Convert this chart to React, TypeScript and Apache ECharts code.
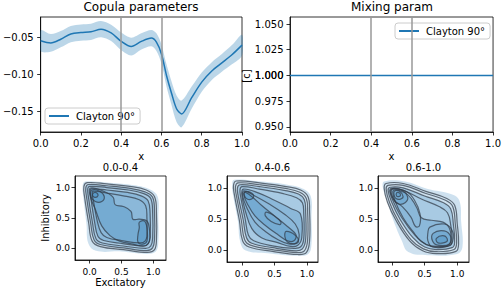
import React, { useEffect, useRef } from "react";
import * as echarts from "echarts";

const FONT = "DejaVu Sans";

// ---- Copula parameters (top-left) ----
const copulaX = [0, 0.05, 0.1, 0.15, 0.2, 0.25, 0.3, 0.35, 0.4, 0.45, 0.5, 0.55, 0.575, 0.6, 0.625, 0.65, 0.675, 0.7, 0.75, 0.8, 0.85, 0.9, 0.95, 1.0];
const copulaMean = [-0.054, -0.057, -0.052, -0.045, -0.043, -0.042, -0.0385, -0.0435, -0.055, -0.062, -0.055, -0.0505, -0.056, -0.072, -0.101, -0.125, -0.146, -0.153, -0.131, -0.11, -0.095, -0.084, -0.073, -0.06];
const copulaUpper = [-0.04, -0.045, -0.041, -0.034, -0.032, -0.031, -0.0275, -0.0325, -0.043, -0.05, -0.044, -0.0395, -0.044, -0.059, -0.086, -0.109, -0.128, -0.135, -0.116, -0.097, -0.083, -0.072, -0.06, -0.046];
const copulaLower = [-0.068, -0.069, -0.063, -0.056, -0.054, -0.053, -0.0495, -0.0545, -0.067, -0.074, -0.066, -0.0615, -0.068, -0.085, -0.116, -0.141, -0.164, -0.171, -0.146, -0.123, -0.107, -0.096, -0.086, -0.074];

// ---- Mixing param (top-right) ----
const mixingX = [0, 1];
const mixingValues = [1, 1];

const boundaries = [0.4, 0.6];
const topXTicks = [0, 0.2, 0.4, 0.6, 0.8, 1.0];
const copulaYTicks = [-0.15, -0.1, -0.05];
const mixingYTicks = [0.95, 0.975, 1.0, 1.025, 1.05];
const mixingCenterTick = 1.0;
const kdeTicks = [0, 0.5, 1.0];

// ---- KDE panel 1 (0.0-0.4) ----
const kde1Fills = [
  [[-0.07, 1.1], [0.3, 1.08], [0.7, 1.04], [0.95, 0.97], [1.07, 0.85], [1.08, 0.5], [1.08, 0.1], [1.04, -0.05], [0.9, -0.09], [0.5, -0.05], [0.1, -0.04], [-0.02, 0.08], [-0.05, 0.4], [-0.1, 0.85], [-0.11, 1.03]],
  [[-0.02, 1.05], [0.27, 1.03], [0.62, 0.99], [0.87, 0.93], [0.99, 0.84], [1.02, 0.58], [1.02, 0.16], [0.99, 0.01], [0.9, -0.035], [0.53, 0.01], [0.18, 0.06], [0.07, 0.14], [0.015, 0.42], [-0.05, 0.85], [-0.06, 1.0]],
  [[0.03, 0.98], [0.27, 0.96], [0.6, 0.92], [0.82, 0.86], [0.92, 0.78], [0.95, 0.58], [0.95, 0.18], [0.92, 0.08], [0.85, 0.04], [0.52, 0.08], [0.22, 0.13], [0.13, 0.2], [0.08, 0.42], [0.02, 0.82], [0.01, 0.95]],
  [[0.01, 0.99], [0.22, 0.94], [0.37, 0.84], [0.4, 0.72], [0.53, 0.69], [0.65, 0.61], [0.68, 0.48], [0.78, 0.48], [0.9, 0.45], [0.94, 0.31], [0.94, 0.12], [0.86, 0.04], [0.68, 0.07], [0.47, 0.12], [0.32, 0.21], [0.19, 0.37], [0.09, 0.64], [0.01, 0.85]],
  [[0.04, 0.96], [0.165, 0.935], [0.23, 0.85], [0.19, 0.77], [0.09, 0.77], [0.02, 0.85]],
  [[0.78, 0.43], [0.86, 0.45], [0.9, 0.34], [0.9, 0.12], [0.835, 0.07], [0.76, 0.1], [0.76, 0.23], [0.78, 0.34]],
  [[0.05, 0.9], [0.09, 0.92], [0.13, 0.89], [0.12, 0.85], [0.08, 0.84], [0.05, 0.86]],
];
const kde1Lines = [
  [[-0.04, 1.08], [0.27, 1.06], [0.63, 1.02], [0.89, 0.96], [1.02, 0.85], [1.05, 0.58], [1.05, 0.15], [1.02, -0.02], [0.91, -0.065], [0.53, -0.02], [0.17, 0.03], [0.04, 0.12], [-0.015, 0.42], [-0.08, 0.85], [-0.09, 1.02]],
  [[-0.02, 1.05], [0.27, 1.03], [0.62, 0.99], [0.87, 0.93], [0.99, 0.84], [1.02, 0.58], [1.02, 0.16], [0.99, 0.01], [0.9, -0.035], [0.53, 0.01], [0.18, 0.06], [0.07, 0.14], [0.015, 0.42], [-0.05, 0.85], [-0.06, 1.0]],
  [[0.0, 1.02], [0.27, 1.0], [0.61, 0.96], [0.85, 0.9], [0.96, 0.82], [0.99, 0.58], [0.99, 0.17], [0.96, 0.04], [0.88, 0.0], [0.53, 0.04], [0.2, 0.09], [0.1, 0.16], [0.045, 0.42], [-0.02, 0.85], [-0.03, 0.98]],
  [[0.03, 0.98], [0.27, 0.96], [0.6, 0.92], [0.82, 0.86], [0.92, 0.78], [0.95, 0.58], [0.95, 0.18], [0.92, 0.08], [0.85, 0.04], [0.52, 0.08], [0.22, 0.13], [0.13, 0.2], [0.08, 0.42], [0.02, 0.82], [0.01, 0.95]],
  [[0.06, 0.94], [0.27, 0.91], [0.55, 0.86], [0.78, 0.8], [0.88, 0.7], [0.9, 0.5], [0.9, 0.2], [0.87, 0.12], [0.8, 0.09], [0.5, 0.13], [0.27, 0.18], [0.18, 0.26], [0.12, 0.45], [0.06, 0.78], [0.04, 0.9]],
  [[0.01, 0.99], [0.22, 0.94], [0.37, 0.84], [0.4, 0.72], [0.53, 0.69], [0.65, 0.61], [0.68, 0.48], [0.78, 0.48], [0.9, 0.45], [0.94, 0.31], [0.94, 0.12], [0.86, 0.04], [0.68, 0.07], [0.47, 0.12], [0.32, 0.21], [0.19, 0.37], [0.09, 0.64], [0.01, 0.85]],
  [[0.04, 0.96], [0.165, 0.935], [0.23, 0.85], [0.19, 0.77], [0.09, 0.77], [0.02, 0.85]],
  [[0.78, 0.43], [0.86, 0.45], [0.9, 0.34], [0.9, 0.12], [0.835, 0.07], [0.76, 0.1], [0.76, 0.23], [0.78, 0.34]],
  [[0.05, 0.9], [0.09, 0.92], [0.13, 0.89], [0.12, 0.85], [0.08, 0.84], [0.05, 0.86]],
];

// ---- KDE panel 2 (0.4-0.6) ----
const kde2Fills = [
  [[-0.12, 1.13], [0.3, 1.1], [0.7, 1.05], [0.95, 0.98], [1.06, 0.86], [1.07, 0.5], [1.07, 0.1], [1.02, -0.06], [0.85, -0.09], [0.4, -0.05], [0.05, 0.0], [-0.03, 0.15], [-0.06, 0.45], [-0.14, 0.9], [-0.15, 1.05]],
  [[-0.03, 1.05], [0.27, 1.02], [0.65, 0.96], [0.87, 0.9], [0.96, 0.81], [0.98, 0.62], [0.98, 0.17], [0.93, 0.02], [0.83, -0.01], [0.47, 0.04], [0.15, 0.11], [0.07, 0.2], [0.02, 0.48], [-0.06, 0.88], [-0.07, 1.0]],
  [[0.02, 0.98], [0.25, 0.92], [0.5, 0.8], [0.75, 0.67], [0.9, 0.58], [0.92, 0.2], [0.86, 0.08], [0.75, 0.06], [0.55, 0.12], [0.3, 0.2], [0.15, 0.35], [0.06, 0.6], [0.0, 0.88]],
  [[0.04, 0.93], [0.15, 0.86], [0.3, 0.72], [0.5, 0.55], [0.7, 0.38], [0.83, 0.25], [0.8, 0.15], [0.7, 0.15], [0.55, 0.25], [0.38, 0.38], [0.2, 0.55], [0.08, 0.75], [0.03, 0.88]],
  [[0.04, 0.93], [0.1, 0.94], [0.18, 0.88], [0.15, 0.82], [0.08, 0.82], [0.04, 0.87]],
  [[0.68, 0.3], [0.82, 0.24], [0.87, 0.14], [0.8, 0.1], [0.7, 0.13], [0.66, 0.22]],
];
const kde2Lines = [
  [[-0.09, 1.11], [0.27, 1.08], [0.68, 1.02], [0.91, 0.96], [1.02, 0.85], [1.04, 0.64], [1.04, 0.15], [0.99, -0.04], [0.86, -0.07], [0.47, -0.02], [0.11, 0.05], [0.01, 0.15], [-0.04, 0.48], [-0.12, 0.91], [-0.13, 1.04]],
  [[-0.06, 1.08], [0.27, 1.05], [0.67, 0.99], [0.89, 0.93], [0.99, 0.83], [1.01, 0.63], [1.01, 0.16], [0.96, -0.01], [0.85, -0.04], [0.47, 0.01], [0.13, 0.08], [0.04, 0.17], [-0.01, 0.48], [-0.09, 0.9], [-0.1, 1.02]],
  [[-0.03, 1.05], [0.27, 1.02], [0.65, 0.96], [0.87, 0.9], [0.96, 0.81], [0.98, 0.62], [0.98, 0.17], [0.93, 0.02], [0.83, -0.01], [0.47, 0.04], [0.15, 0.11], [0.07, 0.2], [0.02, 0.48], [-0.06, 0.88], [-0.07, 1.0]],
  [[0.0, 1.02], [0.27, 0.98], [0.62, 0.91], [0.84, 0.84], [0.93, 0.76], [0.95, 0.6], [0.95, 0.18], [0.9, 0.05], [0.8, 0.03], [0.47, 0.07], [0.18, 0.15], [0.1, 0.24], [0.05, 0.5], [-0.02, 0.86], [-0.03, 0.97]],
  [[0.02, 0.98], [0.25, 0.92], [0.5, 0.8], [0.75, 0.67], [0.9, 0.58], [0.92, 0.2], [0.86, 0.08], [0.75, 0.06], [0.55, 0.12], [0.3, 0.2], [0.15, 0.35], [0.06, 0.6], [0.0, 0.88]],
  [[0.03, 0.95], [0.2, 0.87], [0.42, 0.74], [0.65, 0.58], [0.82, 0.42], [0.88, 0.25], [0.84, 0.12], [0.72, 0.1], [0.55, 0.17], [0.36, 0.3], [0.2, 0.45], [0.08, 0.67], [0.01, 0.87]],
  [[0.04, 0.93], [0.15, 0.86], [0.3, 0.72], [0.5, 0.55], [0.7, 0.38], [0.83, 0.25], [0.8, 0.15], [0.7, 0.15], [0.55, 0.25], [0.38, 0.38], [0.2, 0.55], [0.08, 0.75], [0.03, 0.88]],
  [[0.04, 0.93], [0.1, 0.94], [0.18, 0.88], [0.15, 0.82], [0.08, 0.82], [0.04, 0.87]],
  [[0.37, 0.61], [0.5, 0.55], [0.6, 0.45], [0.58, 0.41], [0.45, 0.46], [0.36, 0.55]],
  [[0.68, 0.3], [0.82, 0.24], [0.87, 0.14], [0.8, 0.1], [0.7, 0.13], [0.66, 0.22]],
];

// ---- KDE panel 3 (0.6-1.0) ----
const kde3Fills = [
  [[-0.12, 1.1], [0.2, 1.1], [0.55, 0.98], [0.9, 0.9], [1.03, 0.8], [1.06, 0.45], [1.08, 0.05], [1.0, -0.06], [0.55, -0.08], [0.25, -0.03], [0.15, 0.15], [0.03, 0.45], [-0.08, 0.8], [-0.14, 1.0]],
  [[-0.03, 1.01], [0.17, 1.0], [0.5, 0.87], [0.79, 0.76], [0.9, 0.66], [0.94, 0.42], [0.96, 0.12], [0.92, 0.04], [0.68, 0.01], [0.5, 0.05], [0.32, 0.2], [0.12, 0.5], [-0.01, 0.78], [-0.06, 0.96]],
  [[0.02, 0.96], [0.2, 0.92], [0.3, 0.82], [0.38, 0.68], [0.45, 0.52], [0.6, 0.48], [0.78, 0.45], [0.88, 0.35], [0.9, 0.15], [0.84, 0.07], [0.6, 0.07], [0.45, 0.14], [0.32, 0.3], [0.17, 0.52], [0.05, 0.78]],
  [[0.0, 0.98], [0.15, 0.96], [0.24, 0.85], [0.2, 0.76], [0.1, 0.74], [0.02, 0.82]],
  [[0.63, 0.27], [0.8, 0.31], [0.9, 0.22], [0.88, 0.1], [0.7, 0.08], [0.62, 0.15]],
  [[0.07, 0.92], [0.11, 0.92], [0.13, 0.88], [0.1, 0.86], [0.07, 0.87]],
  [[0.68, 0.19], [0.8, 0.23], [0.85, 0.16], [0.8, 0.12], [0.7, 0.12]],
];
const kde3Lines = [
  [[-0.09, 1.07], [0.17, 1.07], [0.53, 0.94], [0.84, 0.83], [0.96, 0.72], [1.0, 0.42], [1.02, 0.1], [0.98, -0.02], [0.68, -0.055], [0.47, -0.01], [0.27, 0.15], [0.06, 0.48], [-0.07, 0.77], [-0.12, 0.99]],
  [[-0.06, 1.04], [0.17, 1.04], [0.52, 0.91], [0.82, 0.8], [0.93, 0.7], [0.97, 0.42], [0.99, 0.11], [0.95, 0.01], [0.68, -0.025], [0.48, 0.02], [0.29, 0.17], [0.09, 0.48], [-0.04, 0.77], [-0.09, 0.98]],
  [[-0.03, 1.01], [0.17, 1.0], [0.5, 0.87], [0.79, 0.76], [0.9, 0.66], [0.94, 0.42], [0.96, 0.12], [0.92, 0.04], [0.68, 0.01], [0.5, 0.05], [0.32, 0.2], [0.12, 0.5], [-0.01, 0.78], [-0.06, 0.96]],
  [[0.0, 0.98], [0.17, 0.96], [0.45, 0.82], [0.72, 0.7], [0.85, 0.6], [0.9, 0.4], [0.92, 0.14], [0.88, 0.07], [0.68, 0.05], [0.52, 0.09], [0.35, 0.24], [0.15, 0.52], [0.02, 0.78], [-0.03, 0.93]],
  [[0.02, 0.96], [0.2, 0.92], [0.3, 0.82], [0.38, 0.68], [0.45, 0.52], [0.6, 0.48], [0.78, 0.45], [0.88, 0.35], [0.9, 0.15], [0.84, 0.07], [0.6, 0.07], [0.45, 0.14], [0.32, 0.3], [0.17, 0.52], [0.05, 0.78]],
  [[-0.015, 0.99], [0.22, 0.94], [0.345, 0.8], [0.43, 0.58], [0.42, 0.39], [0.36, 0.38], [0.29, 0.53], [0.165, 0.69], [0.036, 0.8], [-0.03, 0.94]],
  [[0.0, 0.98], [0.15, 0.96], [0.24, 0.85], [0.2, 0.76], [0.1, 0.74], [0.02, 0.82]],
  [[0.04, 0.95], [0.12, 0.94], [0.17, 0.86], [0.13, 0.82], [0.06, 0.83], [0.03, 0.89]],
  [[0.07, 0.92], [0.11, 0.92], [0.13, 0.88], [0.1, 0.86], [0.07, 0.87]],
  [[0.58, 0.37], [0.8, 0.42], [0.92, 0.32], [0.93, 0.14], [0.85, 0.06], [0.62, 0.05], [0.55, 0.15], [0.55, 0.28]],
  [[0.63, 0.27], [0.8, 0.31], [0.9, 0.22], [0.88, 0.1], [0.7, 0.08], [0.62, 0.15]],
  [[0.68, 0.19], [0.8, 0.23], [0.85, 0.16], [0.8, 0.12], [0.7, 0.12]],
];

const kdeTitles = ["0.0-0.4", "0.4-0.6", "0.6-1.0"];

const fmt1 = (v: number) => v.toFixed(1);
const fmtCopula = (v: number) => (v < 0 ? "\u2212" : "") + Math.abs(v).toFixed(2);
const fmtMix = (v: number) => Number(v).toFixed(3);

function xAxisCfg(gridIndex: number, min: number, max: number, ticks: number[], fmt: (v: number) => string, fontSize: number, margin: number, name?: string, nameGap?: number) {
  return {
    type: "value", gridIndex, min, max, position: "bottom",
    name: name || "", nameLocation: "middle", nameGap: nameGap || 0, nameMoveOverlap: false,
    nameTextStyle: { fontFamily: FONT, fontSize: 10, color: "#000", verticalAlign: "top" },
    axisLine: { show: true, onZero: false, lineStyle: { color: "#000", width: 0.8 } },
    axisTick: { show: true, inside: false, length: 3.5, lineStyle: { color: "#000", width: 0.8 }, customValues: ticks },
    axisLabel: { customValues: ticks, formatter: fmt, fontFamily: FONT, fontSize, color: "#000", margin, hideOverlap: false },
    splitLine: { show: false },
  };
}
function yAxisCfg(gridIndex: number, min: number, max: number, ticks: number[], fmt: (v: number) => string, fontSize: number, margin: number, name?: string, nameGap?: number) {
  return {
    type: "value", gridIndex, min, max, position: "left",
    name: name || "", nameLocation: "middle", nameGap: nameGap || 0, nameRotate: 90, nameMoveOverlap: false,
    nameTextStyle: { fontFamily: FONT, fontSize: 10, color: "#000" },
    axisLine: { show: true, onZero: false, lineStyle: { color: "#000", width: 0.8 } },
    axisTick: { show: true, inside: false, length: 3.5, lineStyle: { color: "#000", width: 0.8 }, customValues: ticks },
    axisLabel: { customValues: ticks, formatter: fmt, fontFamily: FONT, fontSize, color: "#000", margin, hideOverlap: false },
    splitLine: { show: false },
  };
}

function kdeSeries(idx: number, fills: number[][][], lines: number[][][]) {
  return {
    type: "custom", coordinateSystem: "cartesian2d", xAxisIndex: idx, yAxisIndex: idx,
    data: [[0, 0]], silent: true, clip: true, z: 2,
    renderItem: (_p: any, api: any) => {
      const pts = (poly: number[][]) => poly.map((pt) => api.coord(pt));
      return {
        type: "group",
        children: [
          ...fills.map((poly) => ({ type: "polygon", shape: { points: pts(poly), smooth: 0.4 }, style: { fill: "rgba(49,130,189,0.24)" } })),
          ...lines.map((poly) => ({ type: "polygon", shape: { points: pts(poly), smooth: 0.4 }, style: { fill: "none", stroke: "rgba(50,60,72,0.72)", lineWidth: 1.2 } })),
        ],
      };
    },
  };
}

const legendBase = {
  orient: "horizontal", icon: "rect", itemWidth: 20, itemHeight: 2,
  textStyle: { fontFamily: FONT, fontSize: 10, color: "#000", padding: [0, 0, 0, 2] },
  borderColor: "#cccccc", borderWidth: 1, borderRadius: 3,
  backgroundColor: "rgba(255,255,255,0.8)", padding: [3, 5, 3, 4],
  data: ["Clayton 90°"], selectedMode: false,
};

export default function App() {
  const ref = useRef<HTMLDivElement>(null);
  useEffect(() => {
    if (!ref.current) return;
    const chart = echarts.init(ref.current, null, { renderer: "svg" });
    const gridBase = { show: true, borderColor: "#000", borderWidth: 0.8, backgroundColor: "#fff", containLabel: false };
    const txt = (text: string, x: number, y: number, size: number, rotation = 0, align = "center") => ({
      type: "text", x, y, rotation, z: 10,
      style: { text, font: `${size}px '${FONT}'`, fill: "#000", align, verticalAlign: "middle" },
    });
    const option: any = {
      animation: false,
      backgroundColor: "#fff",
      color: ["#1f77b4"],
      grid: [
        { ...gridBase, left: 40, top: 17, width: 202, height: 115 },
        { ...gridBase, left: 290, top: 17, width: 204, height: 115 },
        { ...gridBase, left: 75, top: 176, width: 91, height: 86 },
        { ...gridBase, left: 227, top: 176, width: 91, height: 86 },
        { ...gridBase, left: 378, top: 176, width: 91, height: 86 },
      ],
      xAxis: [
        xAxisCfg(0, 0, 1, topXTicks, fmt1, 10, 6, "x", 19),
        xAxisCfg(1, 0, 1, topXTicks, fmt1, 10, 6, "x", 19),
        xAxisCfg(2, -0.23, 1.2, kdeTicks, fmt1, 9, 7, "Excitatory", 17),
        xAxisCfg(3, -0.23, 1.17, kdeTicks, fmt1, 9, 7),
        xAxisCfg(4, -0.215, 1.18, kdeTicks, fmt1, 9, 7),
      ],
      yAxis: [
        yAxisCfg(0, -0.1774, -0.022, copulaYTicks, fmtCopula, 10, 7),
        yAxisCfg(1, 0.9451, 1.0568, mixingYTicks, fmtMix, 10, 6.5),
        yAxisCfg(2, -0.19, 1.19, kdeTicks, fmt1, 9, 5, "Inhibitory", 25),
        yAxisCfg(3, -0.19, 1.19, kdeTicks, fmt1, 9, 5),
        yAxisCfg(4, -0.19, 1.19, kdeTicks, fmt1, 9, 5),
      ],
      legend: [
        { ...legendBase, left: 45, top: 108 },
        { ...legendBase, left: 395, top: 23 },
      ],
      graphic: [
        txt("Copula parameters", 141, 7, 12),
        txt("Mixing param", 392, 7, 12),
        txt(kdeTitles[0], 120.5, 167, 10),
        txt(kdeTitles[1], 272.5, 167, 10),
        txt(kdeTitles[2], 423.5, 167, 10),
        txt("[c]", 246, 76, 10, Math.PI / 2),
      ],
      series: [
        {
          type: "custom", coordinateSystem: "cartesian2d", xAxisIndex: 0, yAxisIndex: 0,
          data: [[0, 0]], silent: true, clip: true, z: 1,
          renderItem: (_p: any, api: any) => {
            const up = copulaX.map((x, i) => api.coord([x, copulaUpper[i]]));
            const lo = copulaX.map((x, i) => api.coord([x, copulaLower[i]])).reverse();
            return { type: "polygon", shape: { points: [...up, ...lo], smooth: 0.3 }, style: { fill: "rgba(31,119,180,0.3)" } };
          },
        },
        {
          type: "line", xAxisIndex: 0, yAxisIndex: 0, data: [], z: 2, silent: true,
          markLine: { silent: true, symbol: "none", label: { show: false }, lineStyle: { color: "#999999", width: 1.5, type: "solid" }, data: boundaries.map((v) => ({ xAxis: v })) },
        },
        {
          type: "line", name: "Clayton 90°", xAxisIndex: 0, yAxisIndex: 0, z: 3,
          data: copulaX.map((x, i) => [x, copulaMean[i]]),
          smooth: 0.3, showSymbol: false, lineStyle: { color: "#1f77b4", width: 1.5 }, itemStyle: { color: "#1f77b4" },
        },
        {
          type: "line", xAxisIndex: 1, yAxisIndex: 1, data: [], z: 2, silent: true,
          markLine: { silent: true, symbol: "none", label: { show: false }, lineStyle: { color: "#999999", width: 1.5, type: "solid" }, data: boundaries.map((v) => ({ xAxis: v })) },
        },
        {
          type: "line", name: "Clayton 90°", xAxisIndex: 1, yAxisIndex: 1, z: 3,
          data: mixingX.map((x, i) => [x, mixingValues[i]]),
          showSymbol: false, lineStyle: { color: "#1f77b4", width: 1.5 }, itemStyle: { color: "#1f77b4" },
        },
        // Fallback tick label for the centre tick of the mixing axis, placed through the axis scale.
        {
          type: "custom", coordinateSystem: "cartesian2d", xAxisIndex: 1, yAxisIndex: 1,
          data: [[0, mixingCenterTick]], silent: true, clip: false, z: 5,
          renderItem: (_p: any, api: any) => {
            const pt = api.coord([0, mixingCenterTick]);
            return {
              type: "text", x: pt[0] - 6.5, y: pt[1],
              style: { text: fmtMix(mixingCenterTick), font: `10px '${FONT}'`, fill: "#000", align: "right", verticalAlign: "middle" },
            };
          },
        },
        kdeSeries(2, kde1Fills, kde1Lines),
        kdeSeries(3, kde2Fills, kde2Lines),
        kdeSeries(4, kde3Fills, kde3Lines),
      ],
    };
    chart.setOption(option);
    return () => chart.dispose();
  }, []);
  return <div ref={ref} style={{ position: "fixed", left: 0, top: 0, width: 504, height: 288 }} />;
}
